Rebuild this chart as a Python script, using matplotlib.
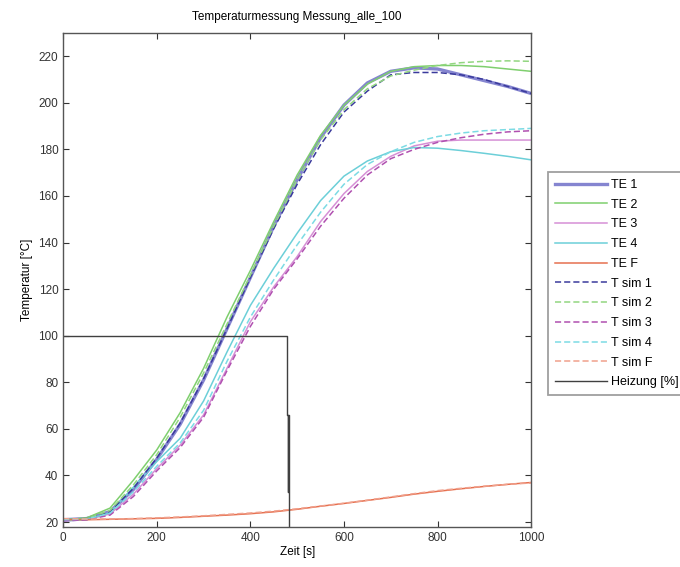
import numpy as np
import matplotlib
matplotlib.use("Agg")
import matplotlib.pyplot as plt

plt.rcParams['font.family'] = ['Liberation Sans', 'DejaVu Sans']
plt.rcParams['font.size'] = 8.5

# time grid [s]
t = [0, 50, 100, 150, 200, 250, 300, 350, 400, 450, 500,
     550, 600, 650, 700, 750, 800, 850, 900, 950, 1000]

# measured temperatures [°C]
te1 = [21, 21.5, 24.5, 34, 47, 62, 81, 103, 125, 147, 167,
       185, 199, 208.5, 213.5, 215, 214.5, 212, 209.5, 207, 204]
te2 = [21, 21.8, 26, 38, 51, 67, 86, 108, 128, 149, 169,
       186, 199, 208, 213.5, 215.5, 216, 216, 215.5, 214.5, 213.5]
te3 = [20.5, 21, 23.5, 32, 43, 53, 66, 86, 106, 121, 134,
       149, 161, 170.5, 177, 181.5, 183.5, 184, 184, 184, 184]
te4 = [20.5, 21, 24, 35, 46, 56, 72, 93, 113, 129, 144,
       158, 168.5, 175, 179, 180.8, 180.5, 179.5, 178.3, 177, 175.5]
tef = [21, 21, 21.2, 21.4, 21.6, 22, 22.5, 23, 23.6, 24.4, 25.5,
       26.8, 28, 29.3, 30.6, 32, 33.2, 34.3, 35.3, 36.2, 37]

# simulated temperatures [°C]
tsim1 = [21, 21.5, 24.5, 34.5, 47.5, 62.5, 81.5, 103, 125, 146, 165,
         182, 196, 205, 212, 213, 213, 212, 210, 207, 204]
tsim2 = [21, 21.5, 25, 36, 49, 65, 84, 105, 126, 147, 167,
         184, 197, 206, 211.5, 214, 216, 217.2, 217.8, 218, 217.8]
tsim3 = [20.5, 21, 23, 31, 42, 52, 65, 85, 104, 120, 133,
         147, 159, 169, 176, 180, 183, 185, 186.5, 187.5, 188]
tsim4 = [21, 21.3, 23.8, 33, 44, 54, 68, 89, 108, 124, 139,
         153, 165, 173.5, 179, 183, 185.5, 187, 188, 188.5, 189]
tsimf = [21.5, 21.3, 21.3, 21.5, 21.8, 22.2, 22.7, 23.3, 23.9, 24.7, 25.7,
         26.9, 28.1, 29.4, 30.8, 32.2, 33.5, 34.5, 35.4, 36.2, 36.8]

# heater power [%]
t_heiz = [0, 479, 479, 480, 480, 481, 481, 482, 482, 1000]
heiz = [100, 100, 66, 66, 33, 33, 66, 66, 0, 0]

fig = plt.figure(figsize=(6.8, 5.67), dpi=100)
ax = fig.add_axes([0.093, 0.071, 0.688, 0.871])

ax.plot(t, te1, color='#8585d0', lw=2.4, label='TE 1')
ax.plot(t, te2, color='#7fcf6e', lw=1.1, label='TE 2')
ax.plot(t, te3, color='#d690d6', lw=1.1, label='TE 3')
ax.plot(t, te4, color='#6ccfd8', lw=1.1, label='TE 4')
ax.plot(t, tef, color='#e6704f', lw=1.1, label='TE F')
ax.plot(t, tsim1, color='#3a3a9c', lw=1.1, ls=(0, (4, 2)), label='T sim 1')
ax.plot(t, tsim2, color='#92d680', lw=1.1, ls=(0, (4, 2)), label='T sim 2')
ax.plot(t, tsim3, color='#b050b0', lw=1.1, ls=(0, (4, 2)), label='T sim 3')
ax.plot(t, tsim4, color='#7cdbe4', lw=1.1, ls=(0, (4, 2)), label='T sim 4')
ax.plot(t, tsimf, color='#f0a08c', lw=1.1, ls=(0, (4, 2)), label='T sim F')
ax.plot(t_heiz, heiz, color='#404040', lw=1.0, label='Heizung [%]')

ax.set_xlim(0, 1000)
ax.set_ylim(18, 230)
ax.set_xticks([0, 200, 400, 600, 800, 1000])
ax.set_yticks(np.arange(20, 221, 20))
ax.tick_params(direction='in', top=True, right=True, length=4, width=0.8,
               labelsize=8.5, colors='#333333')
for s in ax.spines.values():
    s.set_color('#555555')
    s.set_linewidth(1.0)

ax.set_title('Temperaturmessung Messung_alle_100', fontsize=8.5, pad=9)
ax.set_xlabel('Zeit [s]', fontsize=8.5, labelpad=2)
ax.set_ylabel('Temperatur [°C]', fontsize=8.5, labelpad=4)

leg = ax.legend(loc='upper left', bbox_to_anchor=(548 / 680, 1 - 172 / 567),
                bbox_transform=fig.transFigure, fontsize=9, frameon=True,
                fancybox=False, handlelength=4.2, handletextpad=0.3,
                labelspacing=0.62, borderpad=0.55, borderaxespad=0)
leg.get_frame().set_edgecolor('#888888')
leg.get_frame().set_linewidth(1.3)

fig.savefig('out.png', dpi=100)
